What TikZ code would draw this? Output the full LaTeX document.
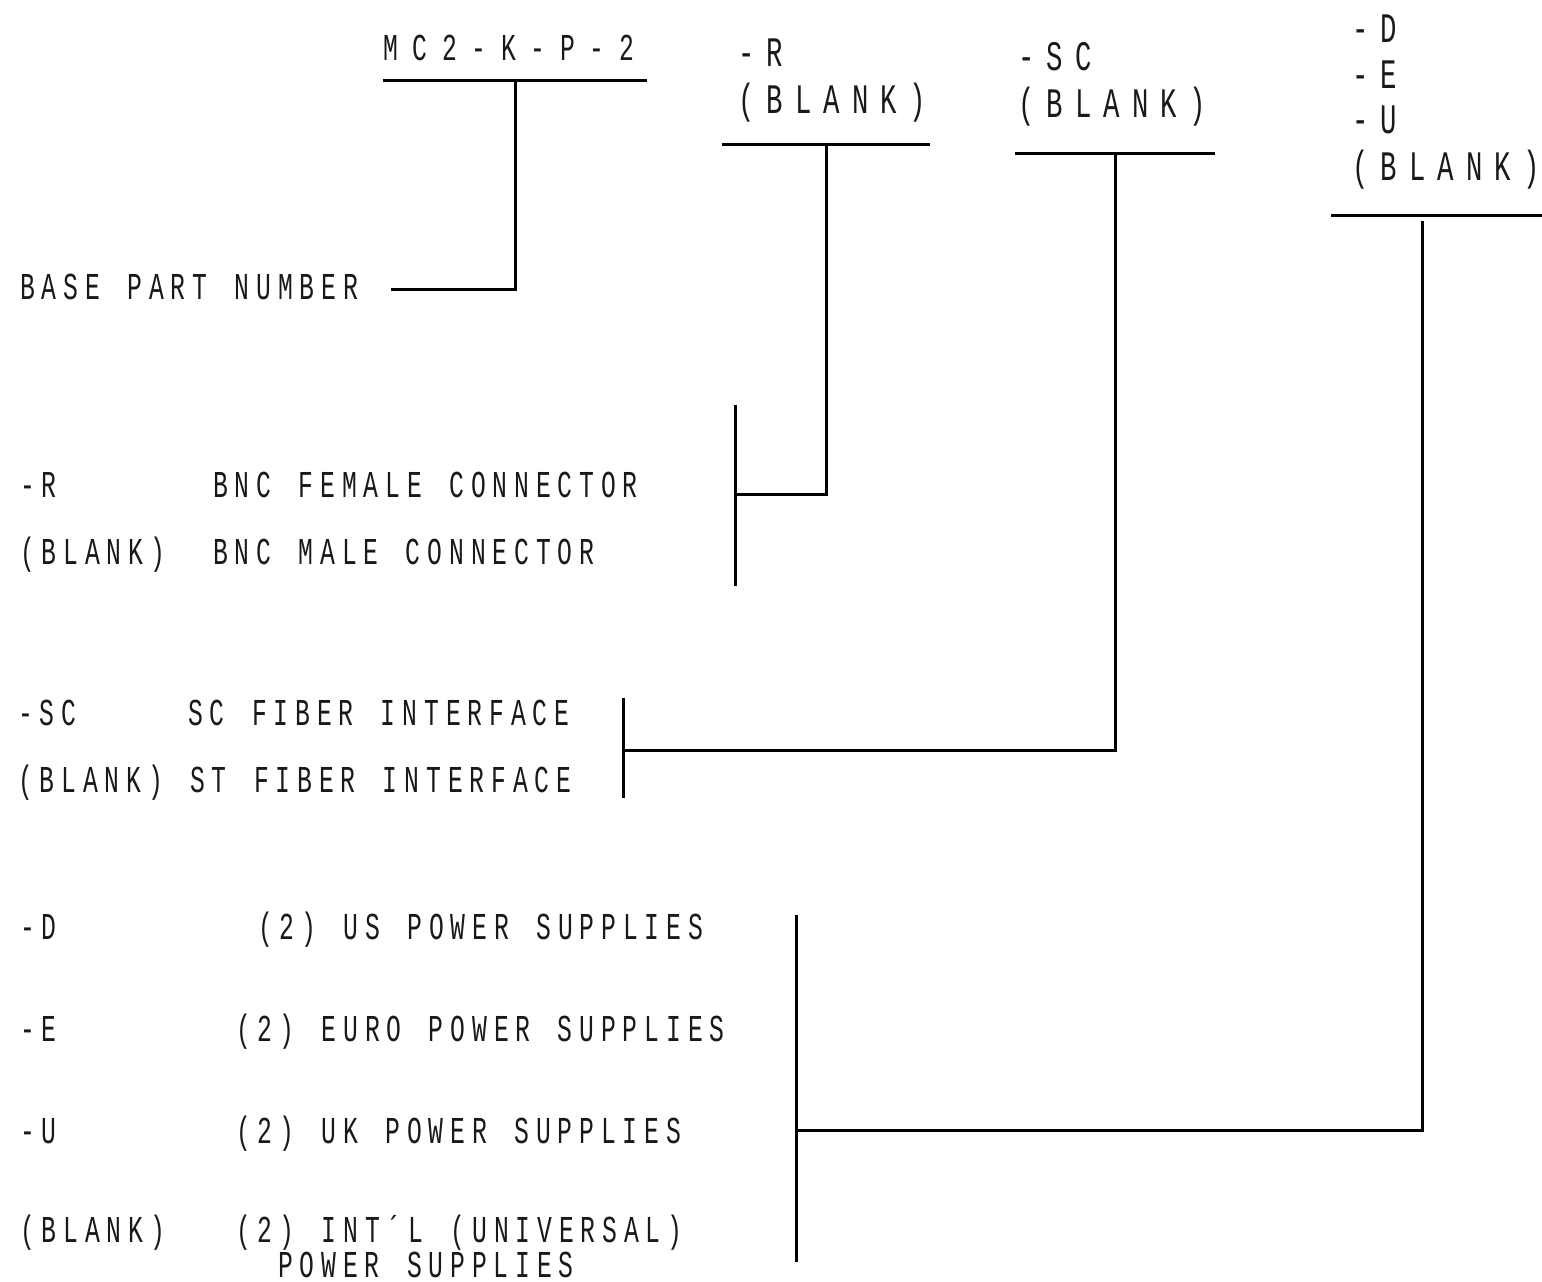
\documentclass[tikz,border=0pt]{standalone}
\usepackage{fontspec}
\newfontfamily\bodyfont[FakeStretch=0.65,LetterSpace=18.1]{Liberation Mono}
\newfontfamily\topfont[FakeStretch=0.65,LetterSpace=28.9]{Liberation Mono}
\newfontfamily\pnfont[FakeStretch=0.65,LetterSpace=38.6]{Liberation Mono}
\newcommand\bodysel{\bodyfont\fontsize{38}{42}\selectfont\spaceskip 27.3pt\relax}
\newcommand\topsel{\topfont\fontsize{42}{46}\selectfont}
\newcommand\pnsel{\pnfont\fontsize{38}{42}\selectfont}
\tikzset{
  bodytxt/.style={anchor=base west, inner sep=0pt, text depth=0pt, text=black!90, font=\bodysel},
  toptxt/.style={anchor=base west, inner sep=0pt, text depth=0pt, text=black!90, font=\topsel},
  pntxt/.style={anchor=base west, inner sep=0pt, text depth=0pt, text=black!90, font=\pnsel},
  conn/.style={line width=3pt, line cap=butt, line join=miter}
}
\begin{document}
\begin{tikzpicture}[x=1pt,y=-1pt]
\useasboundingbox (0,0) rectangle (1542,1282);
% part number
\node[pntxt] (pn) at (383,60) {MC2-K-P-2};
\coordinate (pnL) at (383,80);
\coordinate (pnR) at (647,80);
\coordinate (pnM) at (515,80);
\coordinate (pnB) at (515,289);
\coordinate (baseEnd) at (391,289);
\draw[conn] (pnL) -- (pnR);
\draw[conn] (pnM) -- (pnB) -- (baseEnd);
\node[bodytxt] (base) at (20,299) {BASE PART NUMBER};
% R option
\node[toptxt] (rt1) at (738,66) {-R};
\node[toptxt] (rt2) at (738,113) {(BLANK)};
\coordinate (rL) at (722,144);
\coordinate (rR) at (930,144);
\coordinate (rM) at (826,144);
\coordinate (rB) at (826,494);
\coordinate (rJ) at (735,494);
\coordinate (rBarT) at (735,405);
\coordinate (rBarB) at (735,586);
\draw[conn] (rL) -- (rR);
\draw[conn] (rM) -- (rB) -- (rJ);
\draw[conn] (rBarT) -- (rBarB);
\node[bodytxt] (r1c) at (20,497) {-R};
\node[bodytxt] (r1d) at (213,497) {BNC FEMALE CONNECTOR};
\node[bodytxt] (r2c) at (20,564) {(BLANK)};
\node[bodytxt] (r2d) at (213,564) {BNC MALE CONNECTOR};
% SC option
\node[toptxt] (st1) at (1018,70) {-SC};
\node[toptxt] (st2) at (1018,117) {(BLANK)};
\coordinate (sL) at (1015,153);
\coordinate (sR) at (1215,153);
\coordinate (sM) at (1115,153);
\coordinate (sB) at (1115,750);
\coordinate (sJ) at (623,750);
\coordinate (sBarT) at (623,698);
\coordinate (sBarB) at (623,798);
\draw[conn] (sL) -- (sR);
\draw[conn] (sM) -- (sB) -- (sJ);
\draw[conn] (sBarT) -- (sBarB);
\node[bodytxt] (s1c) at (18,725) {-SC};
\node[bodytxt] (s1d) at (188,725) {SC FIBER INTERFACE};
\node[bodytxt] (s2c) at (18,792) {(BLANK)};
\node[bodytxt] (s2d) at (190,792) {ST FIBER INTERFACE};
% power supply option
\node[toptxt] (dt1) at (1352,42) {-D};
\node[toptxt] (dt2) at (1352,88) {-E};
\node[toptxt] (dt3) at (1352,133) {-U};
\node[toptxt] (dt4) at (1352,180) {(BLANK)};
\coordinate (dL) at (1331,215);
\coordinate (dR) at (1542,215);
\coordinate (dM) at (1422,221);
\coordinate (dB) at (1422,1130);
\coordinate (dJ) at (796,1130);
\coordinate (dBarT) at (796,915);
\coordinate (dBarB) at (796,1262);
\draw[conn] (dL) -- (dR);
\draw[conn] (dM) -- (dB) -- (dJ);
\draw[conn] (dBarT) -- (dBarB);
\node[bodytxt] (d1c) at (20,939) {-D};
\node[bodytxt] (d1d) at (258,939) {(2) US POWER SUPPLIES};
\node[bodytxt] (d2c) at (20,1041) {-E};
\node[bodytxt] (d2d) at (236,1041) {(2) EURO POWER SUPPLIES};
\node[bodytxt] (d3c) at (20,1143) {-U};
\node[bodytxt] (d3d) at (236,1143) {(2) UK POWER SUPPLIES};
\node[bodytxt] (d4c) at (20,1242) {(BLANK)};
\node[bodytxt] (d4d) at (236,1242) {(2) INT´L (UNIVERSAL)};
\node[bodytxt] (d4e) at (278,1277) {POWER SUPPLIES};
\end{tikzpicture}
\end{document}
